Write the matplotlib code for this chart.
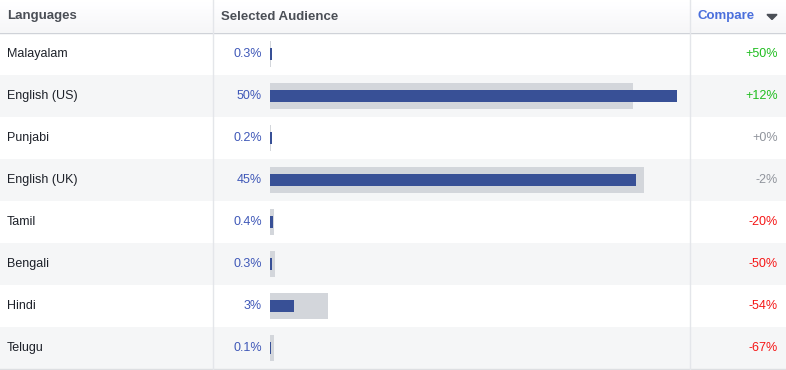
import matplotlib.pyplot as plt
from matplotlib.patches import Polygon

languages = ["Malayalam", "English (US)", "Punjabi", "English (UK)",
             "Tamil", "Bengali", "Hindi", "Telugu"]
selected = [0.3, 50, 0.2, 45, 0.4, 0.3, 3, 0.1]
selected_labels = ["0.3%", "50%", "0.2%", "45%", "0.4%", "0.3%", "3%", "0.1%"]
baseline = [0.15, 44.6, 0.15, 45.9, 0.5, 0.6, 7.1, 0.45]
compare = [50, 12, 0, -2, -20, -50, -54, -67]

W, H = 786, 370
plt.rcParams['font.family'] = ['Liberation Sans', 'DejaVu Sans']
fig = plt.figure(figsize=(W / 100, H / 100), dpi=100)

# background axes in pixel coordinates
bg = fig.add_axes([0, 0, 1, 1])
bg.set_xlim(0, W)
bg.set_ylim(H, 0)
bg.axis('off')

top, row_h = 33, 42
n = len(languages)

# header gradient
for i in range(32):
    c = 1 - 0.035 * i / 31
    bg.fill_between([0, W], i, i + 1, color=(c, c, min(1, c + 0.005)), lw=0)

# row stripes
for i in range(n):
    y0 = top + i * row_h
    bg.fill_between([0, W], y0, y0 + row_h, color='#f5f6f7' if i % 2 else 'white', lw=0)

bg.plot([0, W], [32.5, 32.5], color='#cfd2d8', lw=1.0)
bg.plot([0, W], [369, 369], color='#dddfe2', lw=1)
for x in (212.5, 689.5):
    bg.plot([x, x], [0, 369], color='#e4e6ea', lw=1)

hdr = dict(fontsize=9.5, fontweight='bold', va='center')
bg.text(7, 16.5, "Languages", color='#4b4f56', **hdr)
bg.text(221, 16.5, "Selected Audience", color='#4b4f56', **hdr)
bg.text(698, 16.5, "Compare", color='#4a6fdc', **hdr)
bg.add_patch(Polygon([[767, 14.5], [777, 14.5], [772, 19.5]], closed=True, color='#4b4f56'))

for i, lang in enumerate(languages):
    yc = top + i * row_h + row_h / 2
    bg.text(7, yc, lang, fontsize=9, color='#1d2129', va='center')
    bg.text(262, yc, selected_labels[i], fontsize=9, color='#3f58b8', va='center', ha='right')
    v = compare[i]
    if v > 0:
        col, txt = '#1fbd1f', f"+{v}%"
    elif v == 0:
        col, txt = '#90949c', "+0%"
    else:
        col, txt = '#f51616' if v < -10 else '#90949c', f"{v}%"
    bg.text(778, yc, txt, fontsize=9, color=col, va='center', ha='right')

# bar axes
x0, x1 = 270, 689
px_per_pct = 407 / 50
ax = fig.add_axes([x0 / W, 1 - 369 / H, (x1 - x0) / W, 336 / H])
ax.set_xlim(0, (x1 - x0) / px_per_pct)
ax.set_ylim(n - 0.5, -0.5)
ax.axis('off')
ax.patch.set_alpha(0)

rows = list(range(n))
ax.barh(rows, baseline, height=26 / 42, color='#d3d6db', left=0, linewidth=0)
ax.barh(rows, selected, height=12 / 42, color='#385096', left=0, linewidth=0)

fig.savefig('out.png', dpi=100)
